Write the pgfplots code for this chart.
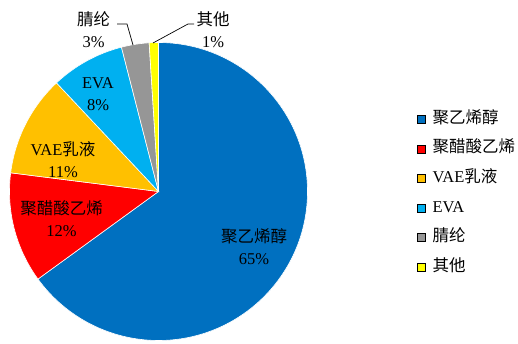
\documentclass[border=0pt]{standalone}
\usepackage{pgfplots}
\pgfplotsset{compat=1.18}
\usepackage{pgfplotstable}
\usepackage{fontspec}
\setmainfont{Liberation Serif}
\newfontfamily\cjk{Noto Sans CJK SC}
\definecolor{c0}{HTML}{0070C0}
\definecolor{c1}{HTML}{FF0000}
\definecolor{c2}{HTML}{FFC000}
\definecolor{c3}{HTML}{00B0F0}
\definecolor{c4}{HTML}{969696}
\definecolor{c5}{HTML}{FFFF00}
\pgfplotstableread{
share
65
12
11
8
3
1
}\piedata
\begin{document}
\begin{tikzpicture}[x=1pt,y=1pt]
\useasboundingbox (0,0) rectangle (518,344);
\begin{axis}[
  at={(158.5pt,152.5pt)}, anchor=origin,
  x=149pt, y=149pt,
  xmin=-1, xmax=1, ymin=-1, ymax=1,
  hide axis, clip=false,
  legend image code/.code={\fill[#1] (0pt,-4pt) rectangle (8pt,4pt);},
  legend cell align=left,
  legend style={at={(axis description cs:1.3674,0.7701)}, anchor=north west,
    draw=none, fill=none, inner sep=0pt, row sep=13.6pt, column sep=7pt,
    font=\fontsize{16.5}{19}\selectfont,
    nodes={inner sep=0pt, text height=12pt, text depth=4pt}},
]
\def\cum{90}
\pgfplotsforeachungrouped \i in {0,...,5}{%
  \pgfplotstablegetelem{\i}{share}\of\piedata
  \pgfmathsetmacro\a{\cum}%
  \pgfmathsetmacro\b{\cum-3.6*\pgfplotsretval}%
  \edef\temp{\noexpand\fill[c\i,draw=white,line width=0.6pt] (axis cs:0,0) -- (axis cs:{cos(\a)},{sin(\a)}) arc[start angle=\a,end angle=\b,radius=149pt] -- cycle;}%
  \temp
  \global\let\cum\b
}
\addlegendimage{fill=c0}\addlegendentry{{\cjk 聚乙烯醇}}
\addlegendimage{fill=c1}\addlegendentry{{\cjk 聚醋酸乙烯}}
\addlegendimage{fill=c2}\addlegendentry{VAE{\cjk 乳液}}
\addlegendimage{fill=c3}\addlegendentry{EVA}
\addlegendimage{fill=c4}\addlegendentry{{\cjk 腈纶}}
\addlegendimage{fill=c5}\addlegendentry{{\cjk 其他}}
\end{axis}
\begin{scope}[every node/.style={font=\fontsize{16.5}{22}\selectfont, align=center, inner sep=0pt}]
\node at (254,97.5) {{\cjk 聚乙烯醇}\\65\%};
\node at (61.5,125.5) {{\cjk 聚醋酸乙烯}\\12\%};
\node at (63,184.5) {VAE{\cjk 乳液}\\11\%};
\node at (98,250) {EVA\\8\%};
\node at (93.5,314.5) {{\cjk 腈纶}\\3\%};
\node at (213,314.5) {{\cjk 其他}\\1\%};
\end{scope}
\draw[line width=0.7pt] (133,299) -- (127,320) -- (117,320);
\draw[line width=0.7pt] (153,301) -- (188,320) -- (194,320);
\end{tikzpicture}
\end{document}
